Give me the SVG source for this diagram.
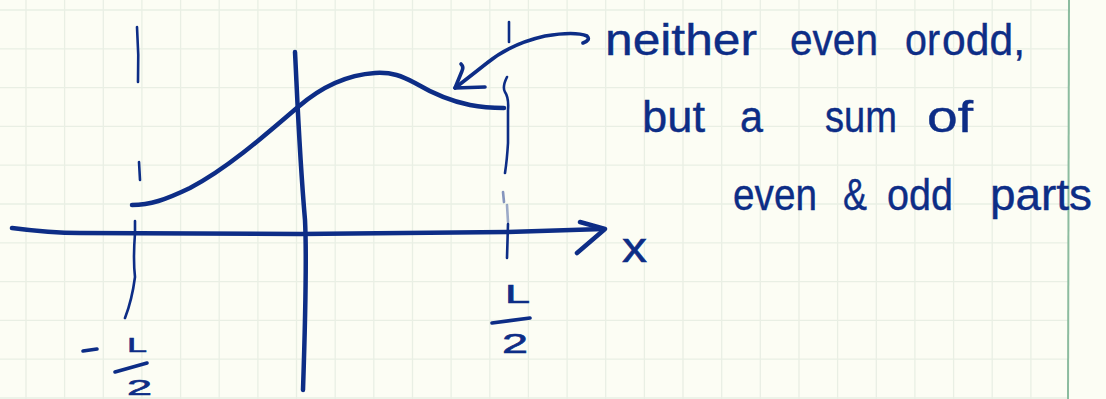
<svg xmlns="http://www.w3.org/2000/svg" width="1106" height="399" viewBox="0 0 1106 399">
  <style>
    .grid line { stroke: #e9efe4; stroke-width: 1.3; }
    .ink { fill: none; stroke: #0d2d86; stroke-linecap: round; stroke-linejoin: round; }
    .thick { stroke-width: 4.5; }
    .mid { stroke-width: 3.6; }
    .thin { stroke-width: 2.6; }
    .hw { font-family: "Liberation Sans", Arial, sans-serif; font-size: 44px; fill: #0d2d86; stroke: #0d2d86; stroke-width: 0.4; }
    .lbl { font-family: "Liberation Sans", Arial, sans-serif; fill: #0d2d86; stroke: #0d2d86; stroke-width: 0.6; }
  </style>
  <rect x="0" y="0" width="1106" height="399" fill="#fcfdf4"/>
  <g id="grid" class="grid">
    <line x1="26" y1="0" x2="26" y2="399"/>
    <line x1="64.6" y1="0" x2="64.6" y2="399"/>
    <line x1="103.3" y1="0" x2="103.3" y2="399"/>
    <line x1="141.9" y1="0" x2="141.9" y2="399"/>
    <line x1="180.6" y1="0" x2="180.6" y2="399"/>
    <line x1="219.2" y1="0" x2="219.2" y2="399"/>
    <line x1="257.9" y1="0" x2="257.9" y2="399"/>
    <line x1="296.5" y1="0" x2="296.5" y2="399"/>
    <line x1="335.2" y1="0" x2="335.2" y2="399"/>
    <line x1="373.8" y1="0" x2="373.8" y2="399"/>
    <line x1="412.5" y1="0" x2="412.5" y2="399"/>
    <line x1="451.1" y1="0" x2="451.1" y2="399"/>
    <line x1="489.8" y1="0" x2="489.8" y2="399"/>
    <line x1="528.4" y1="0" x2="528.4" y2="399"/>
    <line x1="567.1" y1="0" x2="567.1" y2="399"/>
    <line x1="605.7" y1="0" x2="605.7" y2="399"/>
    <line x1="644.4" y1="0" x2="644.4" y2="399"/>
    <line x1="683" y1="0" x2="683" y2="399"/>
    <line x1="721.7" y1="0" x2="721.7" y2="399"/>
    <line x1="760.3" y1="0" x2="760.3" y2="399"/>
    <line x1="799" y1="0" x2="799" y2="399"/>
    <line x1="837.6" y1="0" x2="837.6" y2="399"/>
    <line x1="876.3" y1="0" x2="876.3" y2="399"/>
    <line x1="914.9" y1="0" x2="914.9" y2="399"/>
    <line x1="953.6" y1="0" x2="953.6" y2="399"/>
    <line x1="992.2" y1="0" x2="992.2" y2="399"/>
    <line x1="1030.9" y1="0" x2="1030.9" y2="399"/>
    <line x1="0" y1="10" x2="1069" y2="10"/>
    <line x1="0" y1="48.8" x2="1069" y2="48.8"/>
    <line x1="0" y1="87.6" x2="1069" y2="87.6"/>
    <line x1="0" y1="126.4" x2="1069" y2="126.4"/>
    <line x1="0" y1="165.2" x2="1069" y2="165.2"/>
    <line x1="0" y1="204" x2="1069" y2="204"/>
    <line x1="0" y1="242.8" x2="1069" y2="242.8"/>
    <line x1="0" y1="281.6" x2="1069" y2="281.6"/>
    <line x1="0" y1="320.4" x2="1069" y2="320.4"/>
    <line x1="0" y1="359.2" x2="1069" y2="359.2"/>
    <line x1="0" y1="398" x2="1069" y2="398"/>
  </g>
  <line id="margin" x1="1069" y1="0" x2="1068" y2="399" stroke="#8cbc9f" stroke-width="2"/>

  <g id="axes">
    <path class="ink thick" d="M12,228 Q50,233 80,233 L300,234 L507,232 L603,229"/>
    <path class="ink thick" d="M580,222 L605,229 L577,253"/>
    <path class="ink thick" d="M295,52 C297,90 299,150 305,220 C307,260 305,330 303,390"/>
  </g>

  <g id="guides">
    <path class="ink thin" d="M137,27 Q139,55 138,82"/>
    <path class="ink thin" d="M139,162 L140,180"/>
    <path class="ink thin" d="M135,221 L135,233 Q133,260 135,277 Q132,300 125,318"/>
    <path class="ink thin" d="M509,22 L509,42"/>
    <path class="ink thin" d="M507,77 Q502,87 505,92 Q509,98 508,110 L508,143 Q507,160 505,173"/>
    <path class="ink thin" d="M503,192 L504,202" opacity="0.5"/>
    <path class="ink thin" d="M507,205 L508,222" opacity="0.4"/>
    <path class="ink thin" d="M508,224 L507,258"/>
  </g>

  <g id="curve">
    <path class="ink thick" d="M132,205 C150,205 165,200 190,188 C225,170 262,138 298,107 C320,88 345,75 375,73 C392,72 402,76 415,83 C432,93 450,101 470,105 C485,108 495,108 504,108"/>
  </g>

  <g id="annotation-arrow">
    <path class="ink mid" d="M583,43 Q591,40 587,36 Q575,31 545,36 Q510,44 487,63 Q468,78 455,88"/>
    <path class="ink mid" d="M461,64 Q464,67 462,71 L455,88 L485,87"/>
  </g>

  <g id="label-x">
    <text class="lbl" x="622" y="262" font-size="42" textLength="25" lengthAdjust="spacingAndGlyphs">x</text>
  </g>

  <g id="label-right">
    <text class="lbl" x="505" y="303" font-size="25" textLength="25" lengthAdjust="spacingAndGlyphs">L</text>
    <path class="ink mid" d="M492,323 L530,318"/>
    <text class="lbl" x="502" y="353" font-size="28" textLength="26" lengthAdjust="spacingAndGlyphs">2</text>
  </g>

  <g id="label-left">
    <path class="ink mid" d="M83,351 L97,349"/>
    <text class="lbl" x="127" y="352" font-size="21" textLength="20" lengthAdjust="spacingAndGlyphs">L</text>
    <path class="ink mid" d="M115,372 L147,363"/>
    <text class="lbl" x="127" y="395" font-size="22" textLength="25" lengthAdjust="spacingAndGlyphs">2</text>
  </g>

  <g id="note">
    <text class="hw" y="55"><tspan x="605" textLength="152" lengthAdjust="spacingAndGlyphs">neither</tspan><tspan x="790" textLength="88" lengthAdjust="spacingAndGlyphs">even</tspan><tspan x="905" textLength="35" lengthAdjust="spacingAndGlyphs">or</tspan><tspan x="942" textLength="83" lengthAdjust="spacingAndGlyphs">odd,</tspan></text>
    <text class="hw" y="132"><tspan x="642" textLength="63" lengthAdjust="spacingAndGlyphs">but</tspan><tspan x="740" textLength="23" lengthAdjust="spacingAndGlyphs">a</tspan><tspan x="825" textLength="72" lengthAdjust="spacingAndGlyphs">sum</tspan><tspan x="927" textLength="46" lengthAdjust="spacingAndGlyphs">of</tspan></text>
    <text class="hw" y="210"><tspan x="733" textLength="84" lengthAdjust="spacingAndGlyphs">even</tspan><tspan x="843" textLength="24" lengthAdjust="spacingAndGlyphs">&amp;</tspan><tspan x="887" textLength="66" lengthAdjust="spacingAndGlyphs">odd</tspan><tspan x="990" textLength="102" lengthAdjust="spacingAndGlyphs">parts</tspan></text>
  </g>
</svg>
